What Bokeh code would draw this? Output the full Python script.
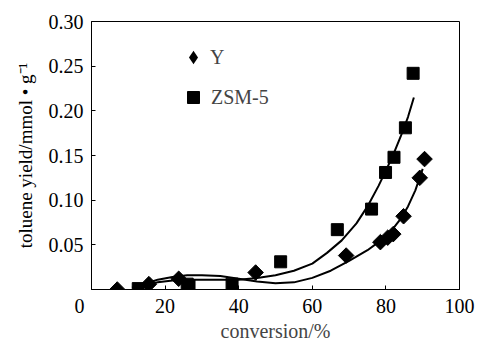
import math
from bokeh.plotting import figure
from bokeh.models import Range1d, FixedTicker, Legend, LegendItem, Title
from bokeh.embed import file_html
from bokeh.resources import INLINE

# ---- data ----
y_conv = [7.0, 15.6, 23.7, 44.6, 69.2, 78.5, 80.5, 82.0, 84.8, 89.2, 90.5]
y_yield = [0.000, 0.006, 0.012, 0.019, 0.038, 0.053, 0.058, 0.062, 0.082, 0.125, 0.146]

zsm_conv = [12.7, 26.0, 26.5, 38.2, 51.4, 66.8, 76.1, 79.9, 82.2, 85.3, 87.4]
zsm_yield = [0.001, 0.006, 0.004, 0.006, 0.031, 0.067, 0.090, 0.131, 0.148, 0.181, 0.242]

# trend curves
y_fit_x = [12, 15, 18, 22, 26, 30, 35, 40, 45, 50, 55, 60, 65, 70, 75, 78, 81, 84, 86, 88, 90]
y_fit_y = [0.002, 0.007, 0.011, 0.014, 0.016, 0.016, 0.015, 0.012, 0.009, 0.007, 0.008,
           0.013, 0.021, 0.032, 0.044, 0.053, 0.063, 0.079, 0.093, 0.111, 0.135]

zsm_fit_x = [11, 14, 18, 22, 26, 30, 35, 40, 45, 50, 55, 60, 64, 68, 72, 75, 78, 80, 82, 84, 86, 87.6]
zsm_fit_y = [0.002, 0.005, 0.008, 0.010, 0.011, 0.011, 0.011, 0.011, 0.013, 0.016, 0.021,
             0.029, 0.041, 0.055, 0.074, 0.093, 0.116, 0.133, 0.151, 0.171, 0.193, 0.215]

x_ticks = [0, 20, 40, 60, 80, 100]
y_ticks = [0.05, 0.10, 0.15, 0.20, 0.25, 0.30]

FONT = "Liberation Serif"
FS = "20px"

p = figure(frame_width=368, frame_height=268, output_backend="svg", toolbar_location=None,
           x_range=Range1d(0, 100), y_range=Range1d(0, 0.30),
           min_border_left=91, min_border_right=19, min_border_top=21, min_border_bottom=52)
p.grid.visible = False
p.outline_line_color = "black"
p.outline_line_width = 1
p.background_fill_color = "white"
p.border_fill_color = "white"

for ax in (p.xaxis[0], p.yaxis[0]):
    ax.axis_line_color = "black"
    ax.major_tick_line_color = "black"
    ax.major_tick_in = 4
    ax.major_tick_out = 0
    ax.minor_tick_line_color = None
    ax.major_label_text_font = FONT
    ax.major_label_text_font_size = FS
    ax.major_label_text_color = "black"
    ax.axis_label_text_font = FONT
    ax.axis_label_text_font_size = FS
    ax.axis_label_text_font_style = "normal"

p.xaxis.ticker = FixedTicker(ticks=x_ticks)
# the corner "0" sits left of the axis in the original
p.xaxis.major_label_overrides = {0: "0\u2003\u2009"}
p.yaxis.ticker = FixedTicker(ticks=y_ticks)
p.yaxis.major_label_overrides = {t: f"{t:.2f}" for t in y_ticks}
p.xaxis.major_label_standoff = 5
p.yaxis.major_label_standoff = 8
p.xaxis.axis_label = "conversion/%"
p.xaxis.axis_label_standoff = 0

ytitle = Title(text="toluene yield/mmol • g⁻¹", align="center", offset=18,
               text_font=FONT, text_font_size="19px", text_font_style="normal",
               text_color="black", standoff=20)
p.add_layout(ytitle, "left")

p.line(y_fit_x, y_fit_y, line_color="black", line_width=2)
p.line(zsm_fit_x, zsm_fit_y, line_color="black", line_width=2)

p.scatter(y_conv, y_yield, marker="square", angle=math.pi / 4, size=11,
          fill_color="black", line_color="black")
r_z = p.scatter(zsm_conv, zsm_yield, marker="square", size=12,
                fill_color="black", line_color="black")

# legend symbol for Y (legend glyphs are never rotated, so use a diamond marker)
r_y_leg = p.scatter(y_conv, y_yield, marker="diamond", size=0,
                    fill_color="black", line_color=None)

leg_y = Legend(items=[LegendItem(label="Y", renderers=[r_y_leg])],
               location=(85, 212), glyph_width=34, glyph_height=40,
               label_text_font=FONT, label_text_font_size=FS,
               label_standoff=0, padding=0, margin=0, spacing=0,
               background_fill_alpha=0, border_line_color=None)
leg_z = Legend(items=[LegendItem(label="ZSM-5", renderers=[r_z])],
               location=(87, 177), glyph_width=30, glyph_height=30,
               label_text_font=FONT, label_text_font_size=FS,
               label_standoff=3, padding=0, margin=0, spacing=0,
               background_fill_alpha=0, border_line_color=None)
p.add_layout(leg_y)
p.add_layout(leg_z)

open("out.html", "w").write(file_html(p, INLINE))
